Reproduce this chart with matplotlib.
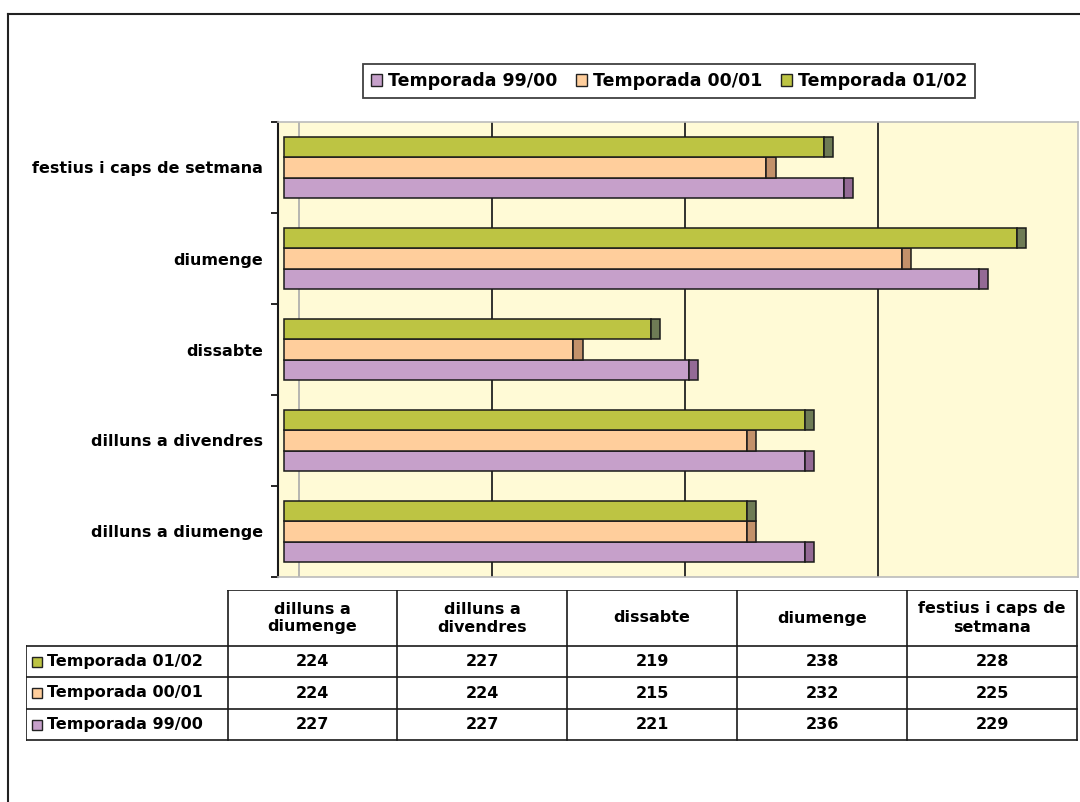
import matplotlib.pyplot as plt
from matplotlib.patches import Rectangle
from matplotlib.lines import Line2D

# dades
categories = ['dilluns a diumenge', 'dilluns a divendres', 'dissabte',
              'diumenge', 'festius i caps de setmana']
col_labels = ['dilluns a\ndiumenge', 'dilluns a\ndivendres', 'dissabte',
              'diumenge', 'festius i caps de\nsetmana']
series = ['Temporada 99/00', 'Temporada 00/01', 'Temporada 01/02']
t9900 = [227, 227, 221, 236, 229]
t0001 = [224, 224, 215, 232, 225]
t0102 = [224, 227, 219, 238, 228]
values = [t9900, t0001, t0102]

colors = ['#C6A0CA', '#FFCE9C', '#BDC443']
caps = ['#946A95', '#C3916A', '#6E7B55']
bg = '#FFFAD6'

fig = plt.figure(figsize=(10.8, 8.02), dpi=100)
W, H = 1080, 802

def fbox(x0, y0, x1, y1):
    return [x0 / W, 1 - y1 / H, (x1 - x0) / W, (y1 - y0) / H]

# marc exterior
fig.add_artist(Line2D([8 / W, 1], [1 - 14 / H, 1 - 14 / H], color='#222222', lw=1.5))
fig.add_artist(Line2D([8 / W, 8 / W], [0, 1 - 14 / H], color='#222222', lw=1.5))

ax = fig.add_axes(fbox(278, 122, 1078, 577))
ax.set_facecolor(bg)
ax.set_xlim(199.69, 241.14)
ax.set_ylim(-0.5, 4.5)

# quadricula (paret del fons, desplaçada)
off = 0.78
ax.axvline(200 + off, color='#AAAAAA', lw=1.2, zorder=1)
for v in [210, 220, 230]:
    ax.axvline(v + off, color='#222222', lw=1.3, zorder=1)

h = 0.22
offsets = [-h, 0, h]
ypos = list(range(len(categories)))
for vals, c, cc, o in zip(values, colors, caps, offsets):
    y = [p + o for p in ypos]
    ax.barh(y, [v - 200 for v in vals], left=200, height=h, color=c,
            edgecolor='#1A1A1A', linewidth=1.1, zorder=3)
    ax.barh(y, 0.47, left=vals, height=h, color=cc,
            edgecolor='#1A1A1A', linewidth=1.1, zorder=3)

ax.set_yticks(ypos)
ax.set_yticklabels(categories, fontsize=11.5, fontweight='bold')
ax.set_yticks([p - 0.5 for p in range(len(categories) + 1)], minor=True)
ax.tick_params(axis='y', which='major', length=0, pad=11)
ax.tick_params(axis='y', which='minor', length=5, width=1.2, direction='out')
ax.set_xticks([])
for s in ['top', 'right', 'bottom']:
    ax.spines[s].set_color('#BBBBBB')
    ax.spines[s].set_linewidth(1.2)
ax.spines['left'].set_color('#1A1A1A')
ax.spines['left'].set_linewidth(1.5)

# llegenda
handles = [Rectangle((0, 0), 1, 1, facecolor=c, edgecolor='#222222', lw=1) for c in colors]
leg = fig.legend(handles, series, loc='center', bbox_to_anchor=(669 / W, 1 - 81 / H),
                 ncol=3, fancybox=False, frameon=True, edgecolor='#111111',
                 prop={'size': 12.5, 'weight': 'bold'}, handlelength=0.65,
                 handleheight=0.65, handletextpad=0.3, columnspacing=1.1,
                 borderpad=0.45, borderaxespad=0)
leg.get_frame().set_linewidth(1.3)

# taula de dades
tx = fig.add_axes(fbox(26, 590, 1078, 741))
tx.set_xlim(26, 1078)
tx.set_ylim(741, 590)
tx.axis('off')
col_x = [26, 228, 397, 567, 737, 907, 1077]
row_y = [590, 646, 677, 709, 740]
lc = '#1A1A1A'
lw = 1.2
tx.plot([228, 1077], [590, 590], color=lc, lw=lw)
tx.plot([26, 1077], [740, 740], color=lc, lw=lw)
for yy in row_y[1:-1]:
    tx.plot([26, 1077], [yy, yy], color=lc, lw=lw)
for i, xx in enumerate(col_x):
    y0 = 590 if i > 0 else 646
    tx.plot([xx, xx], [y0, 740], color=lc, lw=lw)
for j, lab in enumerate(col_labels):
    tx.text((col_x[j + 1] + col_x[j + 2]) / 2, (590 + 646) / 2, lab,
            ha='center', va='center', fontsize=11.5, fontweight='bold',
            linespacing=1.25)
rows = list(zip(series, values, colors))[::-1]
for r, (name, vals, c) in enumerate(rows):
    yc = (row_y[r + 1] + row_y[r + 2]) / 2
    tx.add_patch(Rectangle((32, yc - 5), 10, 10, facecolor=c, edgecolor='#222222', lw=1))
    tx.text(47, yc, name, ha='left', va='center', fontsize=11.5, fontweight='bold')
    for j, v in enumerate(vals):
        tx.text((col_x[j + 1] + col_x[j + 2]) / 2, yc, str(v), ha='center',
                va='center', fontsize=11.5, fontweight='bold')

fig.savefig('out.png', dpi=100)
